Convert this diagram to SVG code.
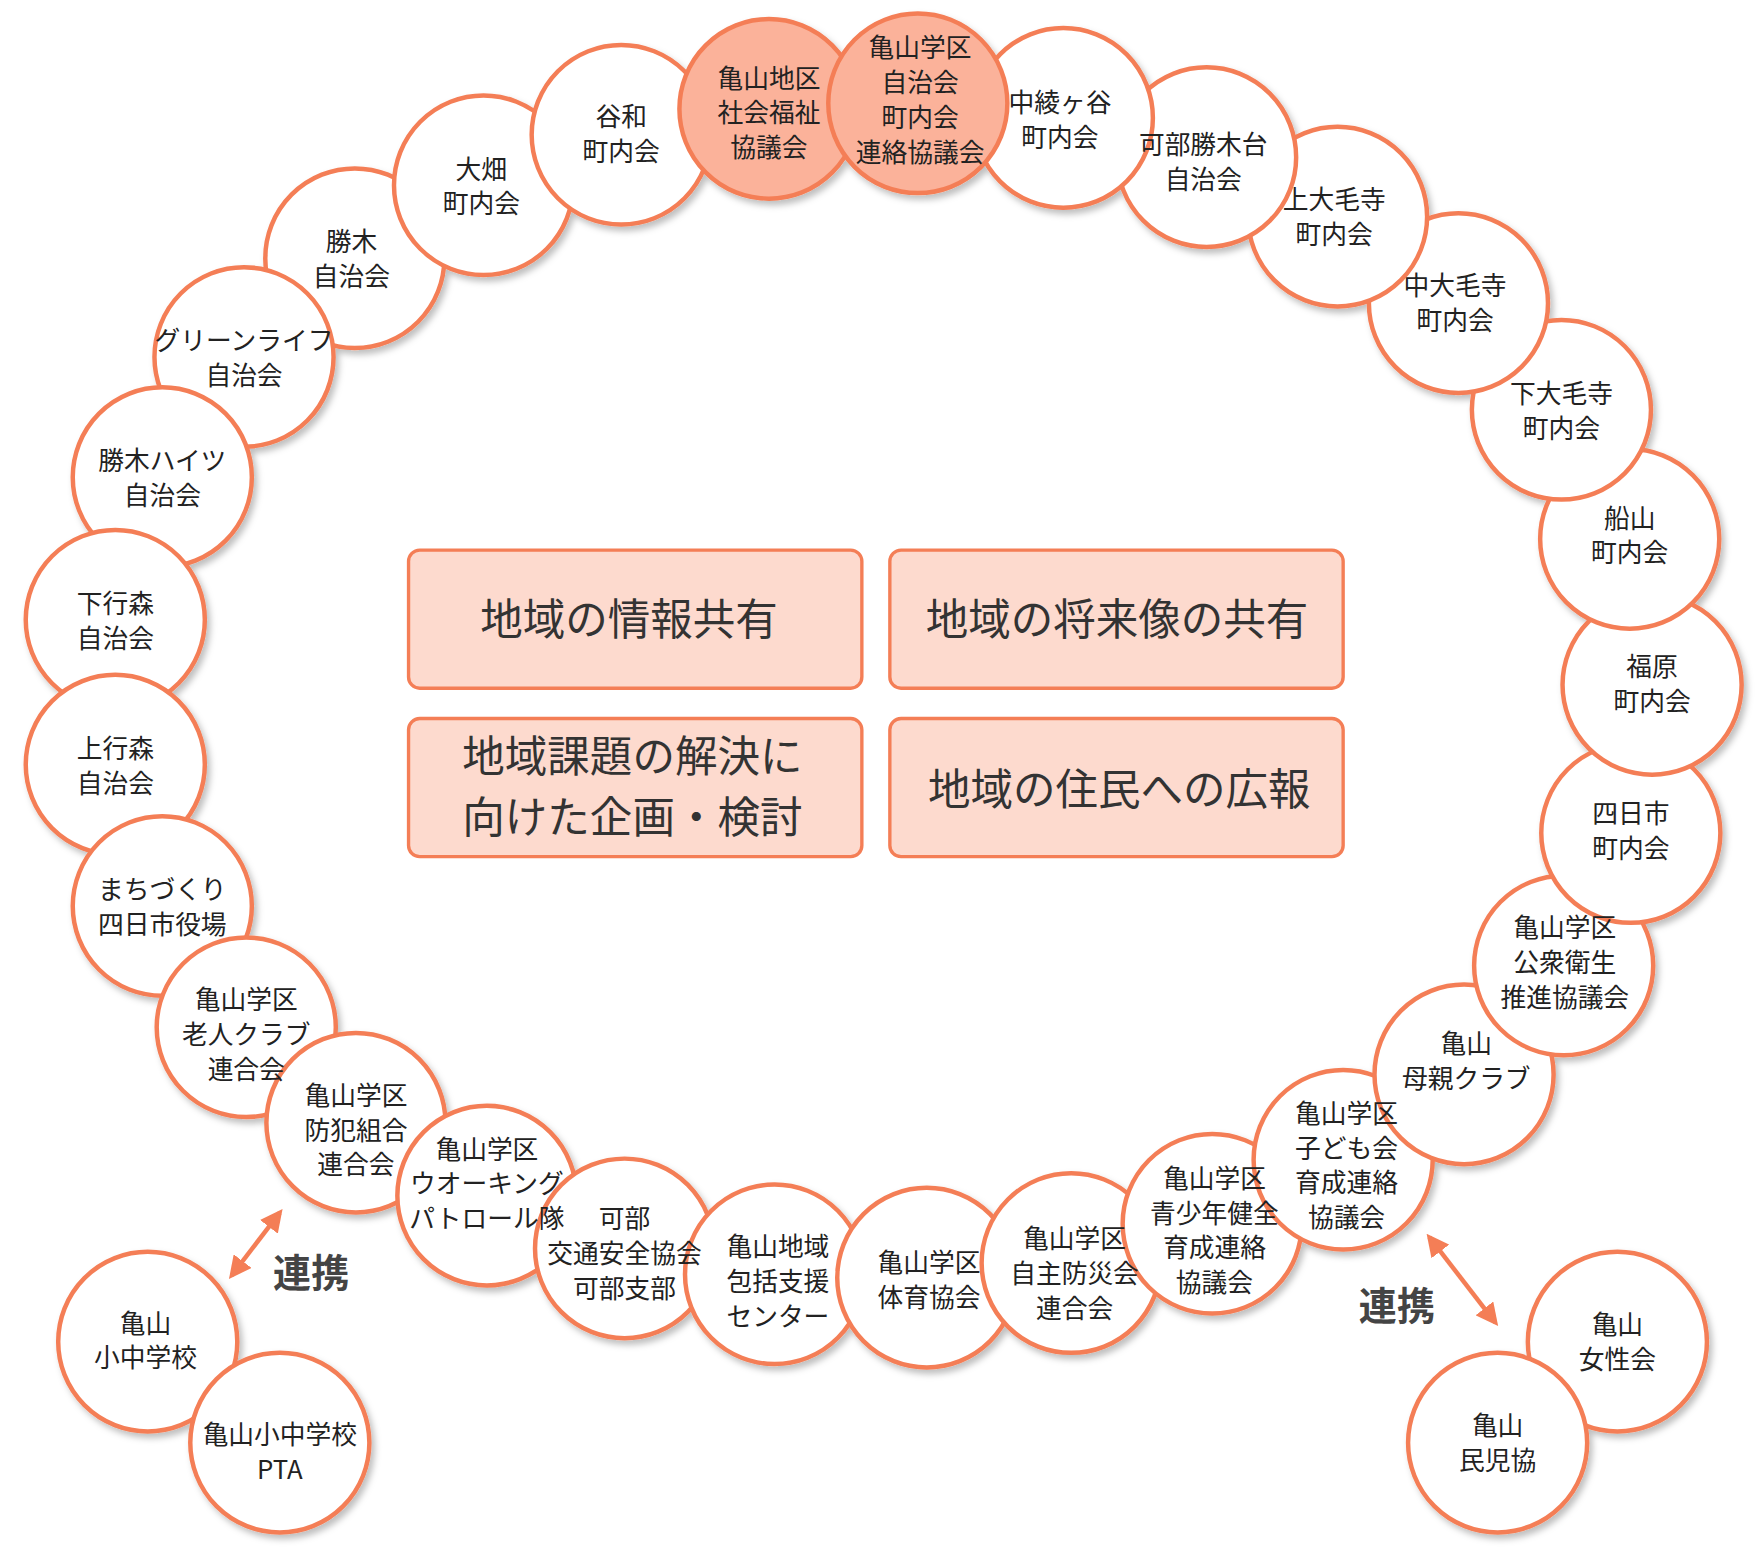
<svg xmlns="http://www.w3.org/2000/svg" width="1755" height="1555" viewBox="0 0 1755 1555">
<style>
.c{fill:#fff;stroke:#f47e56;stroke-width:4}
.f{fill:#fbb29a}
.t{font-family:"Noto Sans CJK JP","Noto Sans CJK SC",sans-serif;font-size:23px;fill:#222;text-anchor:middle}
.b{fill:#fddace;stroke:#f47e56;stroke-width:3}
.bt{font-family:"Noto Sans CJK JP",sans-serif;font-size:38px;fill:#333}
.lk{font-family:"Noto Sans CJK JP",sans-serif;font-size:34px;font-weight:bold;fill:#444}
</style>
<defs>
<filter id="sh" x="-20%" y="-20%" width="150%" height="150%"><feDropShadow dx="3" dy="4" stdDeviation="3" flood-color="#000" flood-opacity="0.25"/></filter>
<marker id="ah" viewBox="0 0 10 10" refX="8" refY="5" markerWidth="5" markerHeight="5" orient="auto-start-reverse"><path d="M0,0L10,5L0,10z" fill="#f47e56"/></marker>
</defs>
<rect width="1755" height="1555" fill="#fff"/>
<g transform="scale(1.1193,1.1227)">
<g id="boxes">
<g id="box1"><rect class="b" x="365" y="490" width="405" height="123" rx="10"/><text class="bt" x="562" y="566" text-anchor="middle">地域の情報共有</text></g>
<g id="box2"><rect class="b" x="795" y="490" width="405" height="123" rx="10"/><text class="bt" x="998" y="566" text-anchor="middle">地域の将来像の共有</text></g>
<g id="box3"><rect class="b" x="365" y="640" width="405" height="123" rx="10"/><text class="bt" x="565" y="688" text-anchor="middle">地域課題の解決に</text><text class="bt" x="565" y="742" text-anchor="middle">向けた企画・検討</text></g>
<g id="box4"><rect class="b" x="795" y="640" width="405" height="123" rx="10"/><text class="bt" x="1000" y="717" text-anchor="middle">地域の住民への広報</text></g>
</g>
<g id="connectors">
<line x1="250" y1="1080" x2="207" y2="1136" stroke="#f47e56" stroke-width="4" marker-start="url(#ah)" marker-end="url(#ah)"/>
<line x1="1277" y1="1102" x2="1336" y2="1178" stroke="#f47e56" stroke-width="4" marker-start="url(#ah)" marker-end="url(#ah)"/>
<text class="lk" x="278" y="1146" text-anchor="middle">連携</text>
<text class="lk" x="1248" y="1176" text-anchor="middle">連携</text>
</g>
<g id="nodes" filter="url(#sh)">
<circle id="n29" class="c" cx="317" cy="230" r="80"/>
<circle id="n28" class="c" cx="218" cy="318" r="80"/>
<circle id="n27" class="c" cx="145" cy="425" r="80"/>
<circle id="n26" class="c" cx="103" cy="552" r="80"/>
<circle id="n25" class="c" cx="103" cy="681" r="80"/>
<circle id="n24" class="c" cx="145" cy="807" r="80"/>
<circle id="n23" class="c" cx="220" cy="915" r="80"/>
<circle id="n22" class="c" cx="318" cy="1000" r="80"/>
<circle id="n21" class="c" cx="435" cy="1065" r="80"/>
<circle id="n20" class="c" cx="558" cy="1112" r="80"/>
<circle id="n19" class="c" cx="692" cy="1135" r="80"/>
<circle id="n18" class="c" cx="828" cy="1138" r="80"/>
<circle id="n17" class="c" cx="957" cy="1125" r="80"/>
<circle id="n16" class="c" cx="1083" cy="1090" r="80"/>
<circle id="n15" class="c" cx="1200" cy="1033" r="80"/>
<circle id="n14" class="c" cx="1308" cy="957" r="80"/>
<circle id="n13" class="c" cx="1397" cy="860" r="80"/>
<circle id="n12" class="c" cx="1457" cy="742" r="80"/>
<circle id="n11" class="c" cx="1476" cy="610" r="80"/>
<circle id="n10" class="c" cx="1456" cy="480" r="80"/>
<circle id="n9" class="c" cx="1395" cy="365" r="80"/>
<circle id="n8" class="c" cx="1303" cy="270" r="80"/>
<circle id="n7" class="c" cx="1195" cy="193" r="80"/>
<circle id="n6" class="c" cx="1078" cy="140" r="80"/>
<circle id="n5" class="c" cx="950" cy="105" r="80"/>
<circle id="n30" class="c" cx="432" cy="165" r="80"/>
<circle id="n1" class="c" cx="555" cy="120" r="80"/>
<circle id="n2" class="c f" cx="687" cy="97" r="80"/>
<circle id="n3" class="c f" cx="820" cy="92" r="80"/>
<circle id="s1" class="c" cx="132" cy="1195" r="80"/>
<circle id="s2" class="c" cx="250" cy="1285" r="80"/>
<circle id="w1" class="c" cx="1445" cy="1195" r="80"/>
<circle id="w2" class="c" cx="1338" cy="1285" r="80"/>
</g>
<g id="labels">
<g id="n29-t"><text class="t" x="314" y="224">勝木</text><text class="t" x="314" y="255">自治会</text></g>
<g id="n28-t"><text class="t" x="218" y="312">グリーンライフ</text><text class="t" x="218" y="343">自治会</text></g>
<g id="n27-t"><text class="t" x="145" y="419">勝木ハイツ</text><text class="t" x="145" y="450">自治会</text></g>
<g id="n26-t"><text class="t" x="103" y="546">下行森</text><text class="t" x="103" y="577">自治会</text></g>
<g id="n25-t"><text class="t" x="103" y="675">上行森</text><text class="t" x="103" y="706">自治会</text></g>
<g id="n24-t"><text class="t" x="145" y="801">まちづくり</text><text class="t" x="145" y="832">四日市役場</text></g>
<g id="n23-t"><text class="t" x="220" y="899">亀山学区</text><text class="t" x="220" y="930">老人クラブ</text><text class="t" x="220" y="961">連合会</text></g>
<g id="n22-t"><text class="t" x="318" y="984">亀山学区</text><text class="t" x="318" y="1015">防犯組合</text><text class="t" x="318" y="1046">連合会</text></g>
<g id="n21-t"><text class="t" x="435" y="1032">亀山学区</text><text class="t" x="435" y="1063">ウオーキング</text><text class="t" x="435" y="1094">パトロール隊</text></g>
<g id="n20-t"><text class="t" x="558" y="1094">可部</text><text class="t" x="558" y="1125">交通安全協会</text><text class="t" x="558" y="1156">可部支部</text></g>
<g id="n19-t"><text class="t" x="695" y="1119">亀山地域</text><text class="t" x="695" y="1150">包括支援</text><text class="t" x="695" y="1181">センター</text></g>
<g id="n18-t"><text class="t" x="830" y="1133">亀山学区</text><text class="t" x="830" y="1164">体育協会</text></g>
<g id="n17-t"><text class="t" x="960" y="1112">亀山学区</text><text class="t" x="960" y="1143">自主防災会</text><text class="t" x="960" y="1174">連合会</text></g>
<g id="n16-t"><text class="t" x="1085" y="1058">亀山学区</text><text class="t" x="1085" y="1089">青少年健全</text><text class="t" x="1085" y="1120">育成連絡</text><text class="t" x="1085" y="1151">協議会</text></g>
<g id="n15-t"><text class="t" x="1203" y="1000">亀山学区</text><text class="t" x="1203" y="1031">子ども会</text><text class="t" x="1203" y="1062">育成連絡</text><text class="t" x="1203" y="1093">協議会</text></g>
<g id="n14-t"><text class="t" x="1310" y="938">亀山</text><text class="t" x="1310" y="969">母親クラブ</text></g>
<g id="n13-t"><text class="t" x="1398" y="835">亀山学区</text><text class="t" x="1398" y="866">公衆衛生</text><text class="t" x="1398" y="897">推進協議会</text></g>
<g id="n12-t"><text class="t" x="1457" y="733">四日市</text><text class="t" x="1457" y="764">町内会</text></g>
<g id="n11-t"><text class="t" x="1476" y="602">福原</text><text class="t" x="1476" y="633">町内会</text></g>
<g id="n10-t"><text class="t" x="1456" y="470">船山</text><text class="t" x="1456" y="501">町内会</text></g>
<g id="n9-t"><text class="t" x="1395" y="359">下大毛寺</text><text class="t" x="1395" y="390">町内会</text></g>
<g id="n8-t"><text class="t" x="1300" y="263">中大毛寺</text><text class="t" x="1300" y="294">町内会</text></g>
<g id="n7-t"><text class="t" x="1192" y="186">上大毛寺</text><text class="t" x="1192" y="217">町内会</text></g>
<g id="n6-t"><text class="t" x="1075" y="137">可部勝木台</text><text class="t" x="1075" y="168">自治会</text></g>
<g id="n5-t"><text class="t" x="947" y="100">中綾ヶ谷</text><text class="t" x="947" y="131">町内会</text></g>
<g id="n30-t"><text class="t" x="430" y="159">大畑</text><text class="t" x="430" y="190">町内会</text></g>
<g id="n1-t"><text class="t" x="555" y="112">谷和</text><text class="t" x="555" y="143">町内会</text></g>
<g id="n2-t"><text class="t" x="687" y="78">亀山地区</text><text class="t" x="687" y="109">社会福祉</text><text class="t" x="687" y="140">協議会</text></g>
<g id="n3-t"><text class="t" x="822" y="51">亀山学区</text><text class="t" x="822" y="82">自治会</text><text class="t" x="822" y="113">町内会</text><text class="t" x="822" y="144">連絡協議会</text></g>
<g id="s1-t"><text class="t" x="130" y="1187">亀山</text><text class="t" x="130" y="1218">小中学校</text></g>
<g id="s2-t"><text class="t" x="250" y="1286">亀山小中学校</text><text class="t" x="250" y="1317">PTA</text></g>
<g id="w1-t"><text class="t" x="1445" y="1188">亀山</text><text class="t" x="1445" y="1219">女性会</text></g>
<g id="w2-t"><text class="t" x="1338" y="1278">亀山</text><text class="t" x="1338" y="1309">民児協</text></g>
</g>
</g>
</svg>
